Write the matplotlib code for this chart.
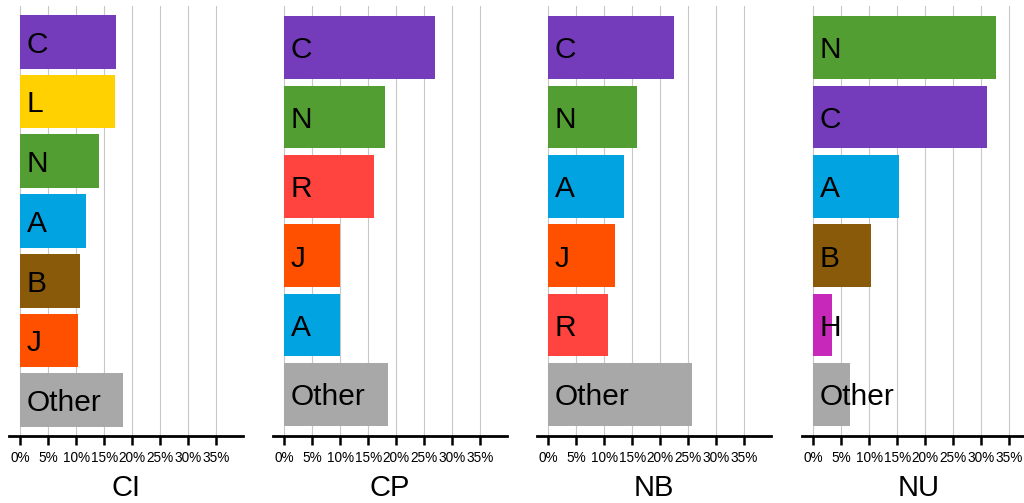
import matplotlib
matplotlib.use("Agg")
import matplotlib.pyplot as plt
from matplotlib.ticker import FuncFormatter

plt.rcParams['font.family'] = ['Liberation Sans', 'DejaVu Sans']

panel_titles = ["CI", "CP", "NB", "NU"]

ci_labels = ["C", "L", "N", "A", "B", "J", "Other"]
ci_values = [0.171, 0.170, 0.140, 0.118, 0.106, 0.104, 0.183]

cp_labels = ["C", "N", "R", "J", "A", "Other"]
cp_values = [0.269, 0.180, 0.160, 0.1005, 0.1005, 0.186]

nb_labels = ["C", "N", "A", "J", "R", "Other"]
nb_values = [0.2245, 0.159, 0.136, 0.120, 0.106, 0.257]

nu_labels = ["N", "C", "A", "B", "H", "Other"]
nu_values = [0.327, 0.311, 0.153, 0.104, 0.033, 0.066]

x_ticks = [0, 0.05, 0.10, 0.15, 0.20, 0.25, 0.30, 0.35]

colors = {
    "C": "#743CBB",
    "L": "#FFD100",
    "N": "#529E32",
    "A": "#01A3E0",
    "B": "#8A5A0B",
    "J": "#FF5000",
    "R": "#FF433E",
    "H": "#C828B9",
    "Other": "#A8A8A8",
}

panels = [
    (ci_labels, ci_values),
    (cp_labels, cp_values),
    (nb_labels, nb_values),
    (nu_labels, nu_values),
]

W, H = 1024, 503
fig = plt.figure(figsize=(W / 100, H / 100), dpi=100)

ax_lefts = [9, 273, 537, 802]
ax_top, ax_bottom = 6, 436
ax_w = 234

for k, ((labels, values), title) in enumerate(zip(panels, panel_titles)):
    ax = fig.add_axes([ax_lefts[k] / W, (H - ax_bottom) / H, ax_w / W, (ax_bottom - ax_top) / H])
    n = len(labels)
    ypos = list(range(n))
    ax.barh(ypos, values, height=0.9, color=[colors[l] for l in labels], zorder=2)
    for y, lab in zip(ypos, labels):
        ax.annotate(lab, xy=(0, y), xytext=(4.8, -7.8), textcoords="offset points",
                    ha="left", va="baseline", fontsize=21.5, color="black", zorder=3)
    ax.set_ylim(n - 1 + 0.6, -0.6)
    ax.set_xlim(-0.02, 0.398)
    ax.set_xticks(x_ticks)
    ax.xaxis.set_major_formatter(FuncFormatter(lambda v, p: f"{round(v * 100):d}%"))
    ax.set_yticks([])
    ax.grid(axis="x", color="#c8c8c8", linewidth=0.8, zorder=0)
    for s in ["left", "right", "top"]:
        ax.spines[s].set_visible(False)
    ax.spines["bottom"].set_linewidth(2)
    ax.spines["bottom"].set_color("black")
    ax.tick_params(axis="x", length=6.5, width=1.8, direction="out", pad=4,
                   labelsize=9.8, colors="black")
    ax.text(0.5, (ax_bottom - 496) / (ax_bottom - ax_top), title, transform=ax.transAxes,
            ha="center", va="baseline", fontsize=21)
    ax.set_facecolor("white")

fig.savefig("out.png", dpi=100)
